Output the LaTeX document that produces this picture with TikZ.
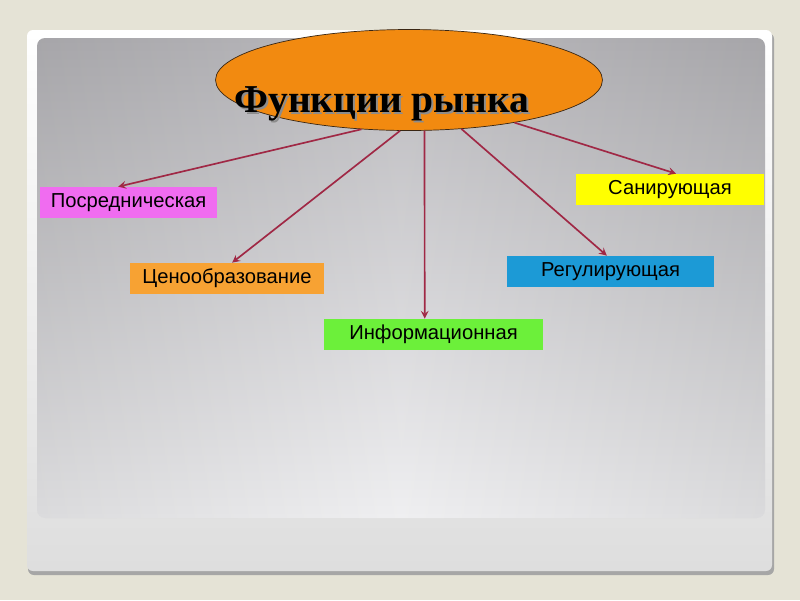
\documentclass[tikz,border=0pt]{standalone}
\usepackage{fontspec}
\setmainfont{Liberation Sans}
\newfontfamily\titlefont{Liberation Serif}
\usetikzlibrary{shapes.geometric, arrows}
\definecolor{bgbeige}{HTML}{E5E3D6}
\definecolor{paneltop}{HTML}{B5B4B8}
\definecolor{panelbot}{HTML}{EEEEF0}
\definecolor{ellorange}{HTML}{F28A10}
\definecolor{arrowred}{HTML}{A02845}
\tikzstyle{titleell} = [ellipse, minimum width=7.74cm, minimum height=2.02cm, inner sep=0pt, draw=black!70!brown, fill=ellorange]
\tikzstyle{titletext} = [font=\titlefont\bfseries\fontsize{22.5}{27}\selectfont, anchor=base, inner sep=0pt]
\tikzstyle{func} = [rectangle, minimum height=0.62cm, inner sep=0pt, text centered, font=\fontsize{11.5}{13}\selectfont]
\tikzstyle{arrow} = [line width=0.95pt, draw=arrowred, ->, >=stealth]

\begin{document}
\begin{tikzpicture}[x=0.02cm, y=-0.02cm]
    \useasboundingbox (0,0) rectangle (800,600);
    \fill [bgbeige] (0,0) rectangle (800,600);
    \fill [black!35, rounded corners=0.12cm] (28,33) rectangle (774,575);
    \shade [top color=white, bottom color=black!13, rounded corners=0.12cm] (27,30) rectangle (772,571);
    \shade [top color=paneltop, bottom color=panelbot, rounded corners=0.16cm] (37,38) rectangle (765,518);
    \shade [left color=black, right color=black, middle color=white, opacity=0.08, rounded corners=0.16cm] (37,38) rectangle (765,518);

    \node (title) [titleell] at (409,80) {};
    \node (title-shadow) [titletext, text=black!45] at (384,114) {Функции рынка};
    \node (title-text) [titletext] at (382,112) {Функции рынка};

    \node (posr-func) [func, minimum width=3.54cm, fill={rgb,255:red,240;green,108;blue,240}] at (128.5,202.5) {Посредническая};
    \node (cena-func) [func, minimum width=3.88cm, fill={rgb,255:red,247;green,162;blue,51}] at (227,278.5) {Ценообразование};
    \node (info-func) [func, minimum width=4.38cm, fill={rgb,255:red,108;green,240;blue,58}] at (433.5,334.5) {Информационная};
    \node (regul-func) [func, minimum width=4.14cm, fill={rgb,255:red,28;green,154;blue,214}] at (610.5,271.5) {Регулирующая};
    \node (san-func) [func, minimum width=3.76cm, fill={rgb,255:red,255;green,255;blue,0}] at (670,189.5) {Санирующая};

    \draw [arrow] (title.226) -- (posr-func.123);
    \draw [arrow] (title.260) -- (cena-func.72);
    \draw [arrow] (title.287) -- (info-func.119);
    \draw [arrow] (title.317) -- (regul-func.103);
    \draw [arrow] (title.338) -- (san-func.69);
\end{tikzpicture}
\end{document}
